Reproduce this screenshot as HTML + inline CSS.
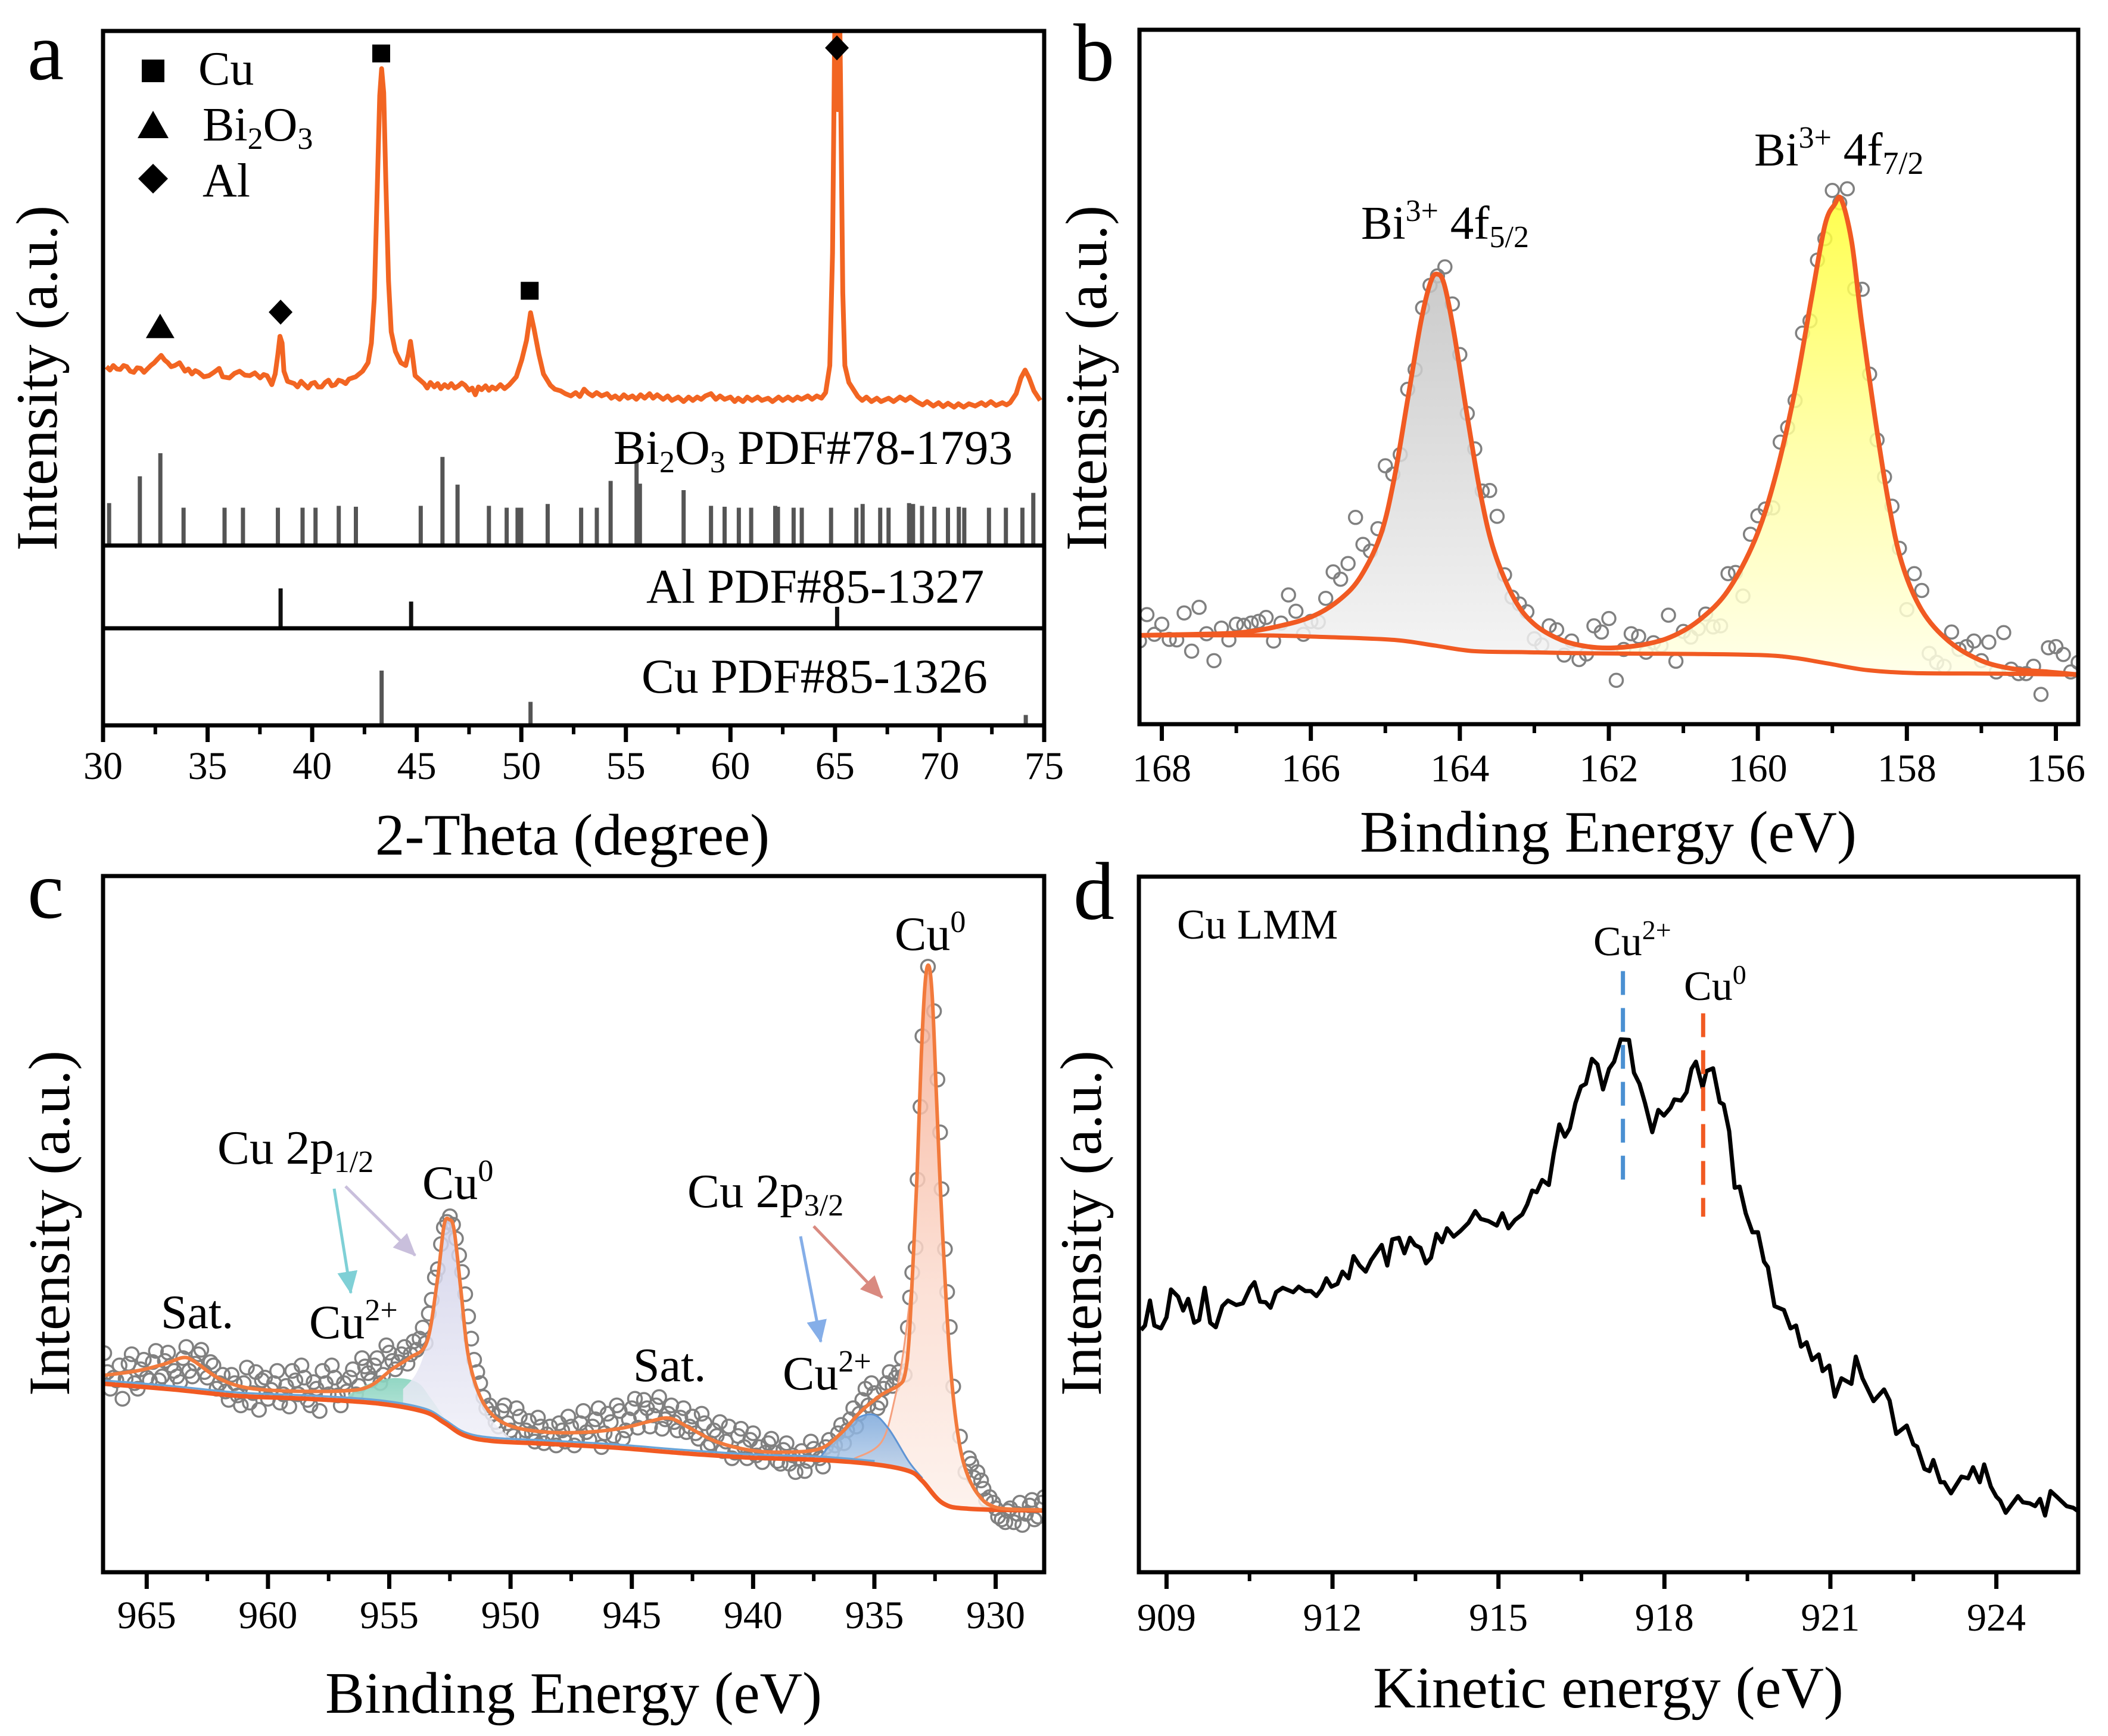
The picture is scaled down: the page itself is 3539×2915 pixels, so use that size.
<!DOCTYPE html>
<html lang="en">
<head>
<meta charset="utf-8">
<title>XRD and XPS characterization panels</title>
<style>
html,body{margin:0;padding:0;background:#fff;}
svg{display:block;}
text{font-family:"Liberation Serif",serif;fill:#000;}
</style>
</head>
<body>
<svg id="fig" xmlns="http://www.w3.org/2000/svg" width="3539" height="2915" viewBox="0 0 3539 2915">
<defs>
<linearGradient id="gGray" x1="0" y1="0" x2="0" y2="1"><stop offset="0" stop-color="#c2c2c2"/><stop offset="1" stop-color="#f2f2f2"/></linearGradient>
<linearGradient id="gYellow" x1="0" y1="0" x2="0" y2="1"><stop offset="0" stop-color="#ffff30"/><stop offset="0.5" stop-color="#ffff9a"/><stop offset="1" stop-color="#ffffe6"/></linearGradient>
<linearGradient id="gTeal" x1="0" y1="0" x2="0" y2="1"><stop offset="0" stop-color="#86d2bd"/><stop offset="1" stop-color="#b9e6da"/></linearGradient>
<linearGradient id="gLav" x1="0" y1="0" x2="0" y2="1"><stop offset="0" stop-color="#cfcfe8"/><stop offset="1" stop-color="#f0f0f8"/></linearGradient>
<linearGradient id="gBlue" x1="0" y1="0" x2="0" y2="1"><stop offset="0" stop-color="#7ba7da"/><stop offset="1" stop-color="#c5d8ee"/></linearGradient>
<linearGradient id="gSalmon" x1="0" y1="0" x2="0" y2="1"><stop offset="0" stop-color="#f6a98c"/><stop offset="0.6" stop-color="#fbdcd0"/><stop offset="1" stop-color="#fdf0ea"/></linearGradient>
<clipPath id="clipA"><rect x="173" y="52" width="1580" height="864"/></clipPath>
<clipPath id="clipB"><rect x="1913" y="50" width="1576" height="1166"/></clipPath>
<clipPath id="clipC"><rect x="173" y="1471" width="1580" height="1169"/></clipPath>
<clipPath id="clipD"><rect x="1912" y="1472" width="1577" height="1168"/></clipPath>
<marker id="arrTeal" markerUnits="userSpaceOnUse" markerWidth="40" markerHeight="50" refX="36" refY="17" orient="auto"><path d="M0 0L38 17L0 34Z" fill="#7fd0d6"/></marker>
<marker id="arrLav" markerUnits="userSpaceOnUse" markerWidth="40" markerHeight="50" refX="36" refY="17" orient="auto"><path d="M0 0L38 17L0 34Z" fill="#c9bfdc"/></marker>
<marker id="arrBlue" markerUnits="userSpaceOnUse" markerWidth="40" markerHeight="50" refX="36" refY="17" orient="auto"><path d="M0 0L38 17L0 34Z" fill="#85aee8"/></marker>
<marker id="arrRed" markerUnits="userSpaceOnUse" markerWidth="40" markerHeight="50" refX="36" refY="17" orient="auto"><path d="M0 0L38 17L0 34Z" fill="#d98a80"/></marker>
</defs>

<rect x="0" y="0" width="3539" height="2915" fill="#fff"/>

<g id="panelA"></g>
<g id="panelB"></g>
<g id="panelC"></g>
<g id="panelD"></g>

<g id="labels">
<text x="46" y="133" font-size="138">a</text>
<text x="1802" y="135" font-size="138">b</text>
<text x="46" y="1541" font-size="138">c</text>
<text x="1802" y="1543" font-size="138">d</text>

<text font-size="99" text-anchor="middle" transform="translate(95 635) rotate(-90)">Intensity (a.u.)</text>
<text font-size="99" text-anchor="middle" transform="translate(1857 635) rotate(-90)">Intensity (a.u.)</text>
<text font-size="99" text-anchor="middle" transform="translate(116 2054) rotate(-90)">Intensity (a.u.)</text>
<text font-size="99" text-anchor="middle" transform="translate(1848 2054) rotate(-90)">Intensity (a.u.)</text>

<text x="961" y="1435" font-size="99" text-anchor="middle">2-Theta (degree)</text>
<text x="2700" y="1430" font-size="99" text-anchor="middle">Binding Energy (eV)</text>
<text x="963" y="2876" font-size="99" text-anchor="middle">Binding Energy (eV)</text>
<text x="2700" y="2867" font-size="99" text-anchor="middle">Kinetic energy (eV)</text>

<rect x="238" y="100" width="38" height="38" fill="#000"/>
<path d="M257 186L283 232L231 232Z" fill="#000"/>
<path d="M257 275L282 300L257 325L232 300Z" fill="#000"/>
<text x="333" y="142" font-size="80">Cu</text>
<text x="340" y="236" font-size="80">Bi<tspan font-size="52" dy="14">2</tspan><tspan dy="-14">O</tspan><tspan font-size="52" dy="14">3</tspan></text>
<text x="340" y="330" font-size="80">Al</text>

<text x="1030" y="779" font-size="81.5">Bi<tspan font-size="52" dy="14">2</tspan><tspan dy="-14">O</tspan><tspan font-size="52" dy="14">3</tspan><tspan dy="-14"> PDF#78-1793</tspan></text>
<text x="1085" y="1012" font-size="82">Al PDF#85-1327</text>
<text x="1077" y="1163" font-size="82">Cu PDF#85-1326</text>

<text x="2285" y="401" font-size="79">Bi<tspan font-size="52" dy="-30">3+</tspan><tspan dy="30"> 4f</tspan><tspan font-size="52" dy="14">5/2</tspan></text>
<text x="2945" y="278" font-size="79">Bi<tspan font-size="52" dy="-30">3+</tspan><tspan dy="30"> 4f</tspan><tspan font-size="54" dy="14">7/2</tspan></text>

<text x="1502" y="1595" font-size="80">Cu<tspan font-size="52" dy="-30">0</tspan></text>
<text x="365" y="1954" font-size="81">Cu 2p<tspan font-size="52" dy="14">1/2</tspan></text>
<text x="709" y="2013" font-size="80">Cu<tspan font-size="52" dy="-30">0</tspan></text>
<text x="519" y="2247" font-size="80">Cu<tspan font-size="52" dy="-30">2+</tspan></text>
<text x="270" y="2230" font-size="80">Sat.</text>
<text x="1063" y="2319" font-size="80">Sat.</text>
<text x="1154" y="2027" font-size="81">Cu 2p<tspan font-size="52" dy="14">3/2</tspan></text>
<text x="1314" y="2333" font-size="80">Cu<tspan font-size="52" dy="-30">2+</tspan></text>

<line x1="561" y1="1996" x2="589" y2="2171" stroke="#7fd0d6" stroke-width="5" marker-end="url(#arrTeal)"/>
<line x1="580" y1="1992" x2="697" y2="2108" stroke="#c9bfdc" stroke-width="5" marker-end="url(#arrLav)"/>
<line x1="1344" y1="2076" x2="1378" y2="2253" stroke="#85aee8" stroke-width="5" marker-end="url(#arrBlue)"/>
<line x1="1366" y1="2059" x2="1481" y2="2179" stroke="#d98a80" stroke-width="5" marker-end="url(#arrRed)"/>

<text x="1976" y="1576" font-size="71">Cu LMM</text>
<text x="2675" y="1604" font-size="70">Cu<tspan font-size="46" dy="-27">2+</tspan></text>
<text x="2827" y="1679" font-size="70">Cu<tspan font-size="46" dy="-27">0</tspan></text>
</g>
</svg>

<script>
/* ---------- panel a: XRD ---------- */
const xrdTheta = [30.16,30.33,30.49,30.66,30.82,30.98,31.14,31.30,31.47,31.63,31.80,31.96,32.12,32.28,32.45,32.62,32.78,32.94,33.10,33.26,33.43,33.66,33.92,34.08,34.25,34.41,34.57,34.82,35.06,35.30,35.55,35.72,36.04,36.28,36.53,36.78,37.02,37.26,37.51,37.68,37.84,38.07,38.23,38.36,38.46,38.56,38.65,38.82,39.14,39.30,39.47,39.63,39.80,39.96,40.12,40.28,40.45,40.62,40.78,40.94,41.10,41.26,41.43,41.60,41.76,42.08,42.41,42.67,42.83,42.97,43.10,43.23,43.32,43.42,43.52,43.65,43.78,43.98,44.24,44.47,44.60,44.70,44.79,44.92,
45.35,45.50,45.65,45.84,46.00,46.15,46.33,46.50,46.65,46.82,47.00,47.15,47.31,47.50,47.65,47.80,47.95,48.10,48.29,48.45,48.60,48.78,49.00,49.20,49.43,
49.76,50.02,50.25,50.44,50.61,50.84,51.06,51.39,
51.60,51.88,52.10,52.37,52.60,52.80,53.00,53.19,53.40,53.60,53.84,54.10,54.30,54.49,54.70,54.90,55.10,55.31,55.50,55.70,55.90,56.13,56.30,56.50,56.78,57.00,57.20,57.50,57.76,58.00,58.20,58.41,58.60,58.80,59.07,59.30,59.50,59.72,60.00,60.20,60.37,60.60,60.80,61.03,61.30,61.50,61.80,62.01,62.30,62.50,62.75,62.98,63.20,63.40,63.70,63.90,64.13,64.35,64.55,
64.75,64.88,64.98,65.04,65.12,65.20,65.27,65.37,65.47,65.66,
66.09,66.30,66.50,66.74,67.00,67.20,67.56,67.80,68.10,68.37,68.60,68.90,69.19,69.40,69.70,69.95,70.17,70.40,70.70,70.90,71.15,71.40,71.70,72.00,72.20,72.45,72.70,73.00,73.20,73.37,
73.66,73.89,74.09,74.28,74.51,74.81];
const xrdIntensity = [318,312,320,314,313,320,318,310,308,316,315,308,314,320,325,332,338,330,325,318,320,325,310,314,305,311,308,300,302,308,315,300,298,306,310,303,302,307,298,304,302,286,305,340,372,360,310,292,288,282,292,286,280,288,290,282,282,290,294,284,286,294,292,288,296,300,310,325,360,440,620,800,848,805,650,470,380,345,325,320,340,363,340,302,
288,280,290,282,288,279,286,281,288,280,284,289,285,276,280,268,282,277,284,276,282,278,286,279,286,
300,330,365,414,385,340,305,285,
278,275,270,266,272,265,278,271,266,272,266,270,262,266,260,268,262,266,260,268,262,270,262,268,260,266,258,264,256,264,258,264,260,266,270,260,266,260,264,256,262,256,264,258,264,258,262,256,264,258,264,258,264,260,266,260,266,262,272,
320,520,900,1020,775,1020,800,450,320,290,
265,258,264,256,262,256,262,256,264,258,264,256,250,256,248,254,247,253,246,252,246,252,248,254,249,256,249,254,250,254,
270,298,312,298,275,258];
const bi2o3Theta = [30.29,31.76,32.74,33.85,35.81,36.69,38.36,39.54,40.16,41.27,42.09,45.19,46.23,46.95,48.45,49.30,49.82,49.99,51.26,52.86,53.61,54.27,55.51,55.67,57.76,59.07,59.72,60.40,60.99,62.14,62.27,63.02,63.41,64.81,66.02,66.32,67.16,67.56,68.54,68.73,69.16,69.75,70.40,70.92,71.18,72.36,73.17,73.96,74.48];
const bi2o3Rel = [46,75,100,41,41,41,41,41,41,43,42,43,96,66,43,41,41,41,45,41,41,70,91,67,60,43,42,41,41,43,42,41,41,41,41,45,41,41,46,45,43,42,41,42,41,41,41,41,57];
const alTheta = [38.49,44.73,65.10];
const alRel = [100,67,54];
const cuTheta = [43.32,50.44,74.12];
const cuRel = [100,43,19];
const markerTheta = [43.3,50.4,32.73,38.49,65.09];
const markerLevel = [875,453,390,415,885];
const markerKind = ['square','square','triangle','diamond','diamond'];
const ticksA = [30,35,40,45,50,55,60,65,70,75];
const minorA = [32.5,37.5,42.5,47.5,52.5,57.5,62.5,67.5,72.5];

/* ---------- panel b: Bi 4f ---------- */
const bEnergy = [168.3,168.2,168.1,168.0,167.9,167.8,167.7,167.6,167.5,167.4,
167.3,167.2,167.1,167.0,166.9,166.8,166.7,166.6,166.5,166.4,
166.3,166.2,166.1,166.0,165.9,165.8,165.7,165.6,165.5,165.4,
165.3,165.2,165.1,165.0,164.9,164.8,164.7,164.6,164.5,164.4,
164.3,164.2,164.1,164.0,163.9,163.8,163.7,163.6,163.5,163.4,
163.3,163.2,163.1,163.0,162.9,162.8,162.7,162.6,162.5,162.4,
162.3,162.2,162.1,162.0,161.9,161.8,161.7,161.6,161.5,161.4,
161.3,161.2,161.1,161.0,160.9,160.8,160.7,160.6,160.5,160.4,
160.3,160.2,160.1,160.0,159.9,159.8,159.7,159.6,159.5,159.4,
159.3,159.2,159.1,159.0,158.9,158.8,158.7,158.6,158.5,158.4,
158.3,158.2,158.1,158.0,157.9,157.8,157.7,157.6,157.5,157.4,
157.3,157.2,157.1,157.0,156.9,156.8,156.7,156.6,156.5,156.4,
156.3,156.2,156.1,156.0,155.9,155.8,155.7];
const bCounts = [148,195,160,178,151,150,198,130,208,161,
113,171,150,178,176,180,183,190,148,180,
230,201,160,183,182,224,271,258,286,368,
320,308,348,460,445,480,596,631,741,781,
798,814,748,658,553,490,415,416,370,266,
226,214,200,152,141,175,168,123,148,115,
125,175,164,188,78,133,161,156,128,145,
140,194,112,165,155,170,196,173,175,268,
270,228,338,371,383,385,502,528,576,696,
718,826,864,950,928,953,775,774,623,506,
440,388,313,204,268,238,126,110,103,164,
133,138,148,113,146,93,163,98,90,90,
103,53,136,138,124,93,110];
const bFitEnergy = [168.30,167.57,166.94,166.41,165.96,165.60,165.33,165.06,164.88,164.70,164.52,164.39,164.30,164.21,164.08,163.90,163.72,163.54,163.27,163.00,162.64,162.28,161.92,161.48,161.12,160.76,160.40,160.04,159.77,159.51,159.28,159.10,158.97,158.88,158.74,158.61,158.43,158.25,158.07,157.80,157.44,157.00,156.55,156.10,155.70];
const bFitValue = [158,160,163,175,193,223,263,338,438,578,718,788,801,783,698,548,408,308,223,178,150,138,136,143,158,188,238,328,438,588,758,888,925,934,858,718,548,398,288,203,148,113,98,93,88];
const bBgEnergy = [168.30,166.67,165.78,164.88,164.34,163.81,163.09,162.19,160.85,159.95,159.51,159.06,158.52,157.89,156.82,155.70];
const bBgValue = [158,158,155,150,140,130,128,126,125,123,118,108,96,91,90,88];
const bPeakSplit = 161.92;
const ticksB = [168,166,164,162,160,158,156];
const minorB = [167,165,163,161,159,157];

/* ---------- panel c: Cu 2p ---------- */
const cEnergy = [966.75,966.5,966.25,966,965.75,965.5,965.25,965,964.75,964.5,
964.25,964,963.75,963.5,963.25,963,962.75,962.5,962.25,962,
961.75,961.5,961.25,961,960.75,960.5,960.25,960,959.75,959.5,
959.25,959,958.75,958.5,958.25,958,957.75,957.5,957.25,957,
956.75,956.5,956.25,956,955.75,955.5,955.25,955,954.75,954.5,
954.25,954,953.75,953.5,953.25,953,952.75,952.5,952.25,952,
951.75,951.5,951.25,951,950.75,950.5,950.25,950,949.75,949.5,
949.25,949,948.75,948.5,948.25,948,947.75,947.5,947.25,947,
946.75,946.5,946.25,946,945.75,945.5,945.25,945,944.75,944.5,
944.25,944,943.75,943.5,943.25,943,942.75,942.5,942.25,942,
941.75,941.5,941.25,941,940.75,940.5,940.25,940,939.75,939.5,
939.25,939,938.75,938.5,938.25,938,937.75,937.5,937.25,937,
936.75,936.5,936.25,936,935.75,935.5,935.25,935,934.75,934.5,
934.25,934,933.75,933.53,933.44,933.3,933.22,933.1,933.02,932.79,
932.54,932.4,932.29,932.23,932.09,932,931.89,931.75,931.47,931.25,
931,930.75,930.5,930.25,930,929.75,929.5,929.25,929,928.75,
928.5,928.25,928];
const cCounts = [394,330,345,312,375,340,365,350,378,345,
380,372,352,385,362,375,400,350,372,340,
325,355,318,340,305,360,345,312,340,305,
335,362,320,350,300,330,362,320,350,300,
325,365,335,370,345,385,355,395,365,392,
375,415,420,412,490,545,620,640,600,540,
460,382,340,295,285,262,300,255,295,245,
272,235,262,248,240,268,235,262,240,290,
238,275,225,285,245,290,255,295,260,310,
262,300,258,285,270,278,252,280,240,268,
232,245,218,262,215,258,205,250,225,215,
240,200,220,195,180,218,200,222,205,225,
215,250,232,275,262,310,300,322,305,340,
335,360,355,494,539,584,706,837,964,1089,
1009,886,791,689,581,504,441,334,244,180,
195,180,150,135,115,95,110,90,125,105,
130,100,135];
const cEnergyExtra = [966.62,966.37,966.12,965.87,965.62,965.37,965.12,964.87,964.62,964.37,
964.12,963.87,963.62,963.37,963.12,962.87,962.62,962.37,962.12,961.87,
961.62,961.37,961.12,960.87,960.62,960.37,960.12,959.87,959.62,959.37,
959.12,958.87,958.62,958.37,958.12,957.87,957.62,957.37,957.12,956.87,
956.62,956.37,956.12,955.87,955.62,955.37,955.12,954.87,954.62,954.37,
954.12,953.87,953.62,953.37,953.12,952.87,952.62,952.37,952.12,951.87,
951.62,951.37,951.12,950.87,950.62,950.37,950.12,949.87,949.62,949.37,
949.12,948.87,948.62,948.37,948.12,947.87,947.62,947.37,947.12,946.87,
946.62,946.37,946.12,945.87,945.62,945.37,945.12,944.87,944.62,944.37,
944.12,943.87,943.62,943.37,943.12,942.87,942.62,942.37,942.12,941.87,
941.62,941.37,941.12,940.87,940.62,940.37,940.12,939.87,939.62,939.37,
939.12,938.87,938.62,938.37,938.12,937.87,937.62,937.37,937.12,936.87,
936.62,936.37,936.12,935.87,935.62,935.37,935.12,934.87,934.62,934.37,
934.12,933.87,933.62,
931.1,930.9,930.6,930.4,930.1,929.9,929.6,929.4,929.1,928.9,928.6,928.4,928.1];
const cCountsExtra = [360,350,372,348,392,330,382,345,398,352,
395,362,342,405,352,392,360,378,330,355,
310,340,300,368,322,292,350,328,362,320,
298,345,372,310,342,290,340,372,318,340,
350,320,385,358,372,340,408,380,378,405,
392,400,440,465,530,590,630,625,570,500,
420,360,315,300,270,290,268,245,280,255,
250,278,232,262,228,255,280,228,268,252,
262,295,250,270,300,240,275,312,280,295,
282,315,275,300,255,295,262,250,285,225,
255,270,235,205,245,225,238,210,198,232,
215,195,232,210,205,182,235,210,190,238,
228,265,255,295,285,330,340,295,330,360,
350,385,440,
205,170,165,130,125,100,90,115,105,85,120,95,125];
const cFitEnergy = [966.78,965.42,964.30,963.51,963.03,962.04,960.91,959.22,956.97,955.84,954.86,954.15,953.45,953.02,952.74,952.52,952.32,952.04,951.76,951.33,950.77,949.93,948.52,946.83,945.42,944.29,943.44,942.60,941.47,940.06,938.65,937.25,936.40,935.56,934.71,934.00,933.75,933.58,933.41,933.24,933.07,932.90,932.74,932.60,932.43,932.26,932.06,931.87,931.61,931.27,930.71,929.92,928.00];
const cFitValue = [354,362,374,386,379,349,332,326,326,334,366,386,414,524,624,634,614,504,394,324,284,262,252,252,259,271,277,259,234,219,216,222,249,289,319,336,354,414,554,714,924,1064,1089,1024,844,674,504,374,264,189,139,116,112];
const cBgEnergy = [966.78,964.01,961.20,958.38,955.56,953.59,952.74,951.90,950.77,948.52,945.70,942.88,940.06,937.25,934.99,933.58,933.02,932.17,931.05,928.00];
const cBgValue = [339,329,317,312,304,289,269,246,236,231,224,214,206,202,194,182,164,124,114,111];
const cSatEnergy = [966.78,964.01,961.20,958.38,955.56,953.59,952.74,951.90,950.77,948.52,945.70,942.88,940.06,937.25,934.99];
const cSatValue = [345,335,323,318,310,295,275,252,242,237,230,220,212,208,200];
const cu2pLowEnergy = [956.69,955.84,954.86,953.87,953.31,952.68];
const cu2pLowValue = [319,339,349,342,314,274];
const cu0pLowEnergy = [954.43,953.87,953.45,953.02,952.74,952.52,952.32,952.04,951.76,951.33,950.77,949.93];
const cu0pLowValue = [329,359,414,534,624,634,614,504,394,324,274,239];
const cu2pHighEnergy = [937.25,936.12,935.13,934.43,933.58,933.02];
const cu2pHighValue = [206,264,284,259,199,169];
const cu0pHighEnergy = [935.84,934.71,934.15,933.75,933.41,933.24,933.07,932.90,932.74,932.60,932.43,932.26,932.06,931.87,931.61,931.27,930.71,929.92];
const cu0pHighValue = [204,234,314,414,554,714,924,1064,1089,1024,844,674,504,374,264,189,139,116];
const ticksC = [965,960,955,950,945,940,935,930];
const minorC = [962.5,957.5,952.5,947.5,942.5,937.5,932.5];

/* ---------- panel d: Cu LMM ---------- */
const dEnergy = [908.54,908.61,908.70,908.78,908.90,909.00,909.08,909.21,909.30,909.39,
909.50,909.59,909.69,909.79,909.89,910.01,910.11,910.26,910.38,910.51,
910.59,910.69,910.79,910.88,910.98,911.10,911.29,911.39,911.51,911.61,
911.71,911.80,911.89,911.98,912.09,912.18,912.29,912.38,912.49,912.60,
912.70,912.89,912.99,913.08,913.20,913.30,913.40,913.49,913.59,913.69,
913.78,913.88,913.98,914.07,914.19,914.31,914.46,914.58,914.68,914.82,
914.97,915.07,915.18,915.30,915.43,915.52,915.61,915.69,915.79,915.91,
916.00,916.10,916.20,916.29,916.39,916.49,916.58,916.69,916.79,916.89,
917.00,917.09,917.21,917.36,917.45,917.55,917.65,917.78,917.89,917.99,
918.11,918.18,918.30,918.40,918.49,918.57,918.69,918.76,918.88,919.00,
919.07,919.17,919.27,919.36,919.47,919.59,919.69,919.80,919.87,919.99,
920.16,920.28,920.38,920.47,920.57,920.67,920.79,920.86,920.98,921.08,
921.20,921.38,921.46,921.58,921.78,921.97,922.07,922.19,922.38,922.50,
922.57,922.70,922.79,922.86,922.99,923.06,923.18,923.37,923.49,923.58,
923.70,923.78,923.90,924.00,924.07,924.17,924.39,924.48,924.60,924.70,
924.79,924.88,924.98,925.09,925.27,925.39,925.49];
const dCounts = [436,444,489,444,439,459,509,496,471,492,
449,454,512,449,441,479,489,481,484,512,
522,487,486,476,504,512,504,514,506,506,
497,509,529,514,519,541,529,569,552,541,
562,589,552,599,602,574,602,589,584,556,
566,609,594,619,604,614,629,650,636,632,
624,646,619,634,644,662,687,684,706,697,
754,806,784,799,844,874,879,924,914,869,
906,919,959,958,899,879,844,792,832,822,
836,851,849,864,906,919,872,902,907,846,
842,794,692,694,646,612,612,559,549,479,
472,439,444,406,414,382,392,362,372,316,
349,339,388,349,308,329,309,249,264,230,
226,186,182,202,162,162,142,172,169,189,
162,194,154,136,129,107,137,126,124,119,
132,102,146,136,119,116,109];
const dCu2Energy = 917.25;
const dCu0Energy = 918.70;
const dCu2Range = [1082,705];
const dCu0Range = [1006,640];
const ticksD = [909,912,915,918,921,924];
const minorD = [910.5,913.5,916.5,919.5,922.5,925.5];

/* ---------- axis functions ---------- */
const xA = t => 173 + (t - 30) * (1580 / 45);
const yA = v => 916 - v * (864 / 915);
const xB = e => 1913 + (168.3 - e) * (1576 / 12.6);
const yB = v => 1216 - v * (1166 / 1236);
const xC = e => 173 + (966.8 - e) * (1580 / 38.8);
const yC = v => 2640 - v * (1169 / 1252);
const xD = e => 1912 + (e - 908.5) * (1577 / 16.98);
const yD = v => 2640 - v * (1168 / 1252);

const NS = 'http://www.w3.org/2000/svg';

function mk(parent, tag, name, attrs) {
  const el = document.createElementNS(NS, tag);
  
  
  for (const k in attrs) el.setAttribute(k, attrs[k]);
  parent.appendChild(el);
  return el;
}

function pts(xs, ys, fx, fy) {
  const out = [];
  const n = Math.min(xs.length, ys.length);
  for (let i = 0; i < n; i++) out.push([fx(xs[i]), fy(ys[i])]);
  return out;
}
function linePath(p) {
  return p.map((q, i) => (i ? 'L' : 'M') + q[0].toFixed(1) + ' ' + q[1].toFixed(1)).join('');
}
function smoothPath(p) {
  let d = 'M' + p[0][0].toFixed(1) + ' ' + p[0][1].toFixed(1);
  for (let i = 0; i < p.length - 1; i++) {
    const a = p[Math.max(i - 1, 0)], b = p[i], c = p[i + 1], e = p[Math.min(i + 2, p.length - 1)];
    const c1x = b[0] + (c[0] - a[0]) / 6, c1y = b[1] + (c[1] - a[1]) / 6;
    const c2x = c[0] - (e[0] - b[0]) / 6, c2y = c[1] - (e[1] - b[1]) / 6;
    d += 'C' + c1x.toFixed(1) + ' ' + c1y.toFixed(1) + ' ' + c2x.toFixed(1) + ' ' + c2y.toFixed(1) + ' ' + c[0].toFixed(1) + ' ' + c[1].toFixed(1);
  }
  return d;
}
function interpDesc(xs, ys, x) {
  for (let i = 0; i < xs.length - 1; i++) {
    if (x <= xs[i] && x >= xs[i + 1]) {
      const t = (xs[i] - x) / (xs[i] - xs[i + 1]);
      return ys[i] + t * (ys[i + 1] - ys[i]);
    }
  }
  return ys[ys.length - 1];
}
function areaPath(es, vs, bgE, bgV, fx, fy) {
  const top = pts(es, vs, fx, fy);
  let d = smoothPath(top);
  for (let i = es.length - 1; i >= 0; i--) {
    d += 'L' + fx(es[i]).toFixed(1) + ' ' + fy(interpDesc(bgE, bgV, es[i])).toFixed(1);
  }
  return d + 'Z';
}
function drawAxis(g, ticks, minor, fx, base, labelY, left, top, w, h, prefix) {
  ticks.forEach(t => {
    mk(g, 'line', prefix + '-major-tick', {x1: fx(t), x2: fx(t), y1: base, y2: base + 28, stroke: '#000', 'stroke-width': 7});
    const lab = mk(g, 'text', prefix + '-tick-label', {x: fx(t), y: labelY, 'font-size': 66, 'text-anchor': 'middle'});
    lab.textContent = String(t);
  });
  minor.forEach(t => {
    if (fx(t) > left && fx(t) < left + w) {
      mk(g, 'line', prefix + '-minor-tick', {x1: fx(t), x2: fx(t), y1: base, y2: base + 15, stroke: '#000', 'stroke-width': 6});
    }
  });
  mk(g, 'rect', prefix + '-frame', {x: left, y: top, width: w, height: h, fill: 'none', stroke: '#000', 'stroke-width': 7});
}
function drawCircles(g, xs, ys, fx, fy, name, r) {
  const n = Math.min(xs.length, ys.length);
  for (let i = 0; i < n; i++) {
    mk(g, 'circle', name, {cx: fx(xs[i]).toFixed(1), cy: fy(ys[i]).toFixed(1), r: r, fill: 'none', stroke: '#808080', 'stroke-width': 3.5});
  }
}

/* ---------- draw panel a ---------- */
const gA = document.getElementById('panelA');
mk(gA, 'path', 'xrd-pattern', {d: linePath(pts(xrdTheta, xrdIntensity, xA, yA)), fill: 'none', stroke: '#f26522', 'stroke-width': 8, 'stroke-linejoin': 'round', 'clip-path': 'url(#clipA)'});
bi2o3Theta.forEach((t, i) => {
  mk(gA, 'line', 'bi2o3-reference-stick', {x1: xA(t), x2: xA(t), y1: 916, y2: 916 - bi2o3Rel[i] * 1.55, stroke: '#555', 'stroke-width': 7});
});
alTheta.forEach((t, i) => {
  mk(gA, 'line', 'al-reference-stick', {x1: xA(t), x2: xA(t), y1: 1055, y2: 1055 - alRel[i] * 0.67, stroke: '#111', 'stroke-width': 7});
});
cuTheta.forEach((t, i) => {
  mk(gA, 'line', 'cu-reference-stick', {x1: xA(t), x2: xA(t), y1: 1218, y2: 1218 - cuRel[i] * 0.92, stroke: '#555', 'stroke-width': 7});
});
mk(gA, 'line', 'divider-bi2o3-al', {x1: 173, x2: 1753, y1: 916, y2: 916, stroke: '#000', 'stroke-width': 7});
mk(gA, 'line', 'divider-al-cu', {x1: 173, x2: 1753, y1: 1055, y2: 1055, stroke: '#000', 'stroke-width': 7});
drawAxis(gA, ticksA, minorA, xA, 1218, 1308, 173, 52, 1580, 1166, 'x-axis-a');
markerTheta.forEach((t, i) => {
  const cx = xA(t), cy = yA(markerLevel[i]);
  if (markerKind[i] === 'square') {
    mk(gA, 'rect', 'peak-marker-cu', {x: cx - 15, y: cy - 15, width: 30, height: 30, fill: '#000'});
  } else if (markerKind[i] === 'triangle') {
    mk(gA, 'path', 'peak-marker-bi2o3', {d: 'M' + cx + ' ' + (cy - 21) + 'L' + (cx + 24) + ' ' + (cy + 20) + 'L' + (cx - 24) + ' ' + (cy + 20) + 'Z', fill: '#000'});
  } else {
    mk(gA, 'path', 'peak-marker-al', {d: 'M' + cx + ' ' + (cy - 21) + 'L' + (cx + 20) + ' ' + cy + 'L' + cx + ' ' + (cy + 21) + 'L' + (cx - 20) + ' ' + cy + 'Z', fill: '#000'});
  }
});

/* ---------- draw panel b ---------- */
const gB = document.getElementById('panelB');
const clipB = mk(gB, 'g', 'plot-area-b', {'clip-path': 'url(#clipB)'});
drawCircles(clipB, bEnergy, bCounts, xB, yB, 'bi-4f-data-point', 11);
const peak1E = [], peak1V = [], peak2E = [], peak2V = [];
bFitEnergy.forEach((e, i) => {
  if (e >= bPeakSplit) { peak1E.push(e); peak1V.push(bFitValue[i]); }
  if (e <= bPeakSplit) { peak2E.push(e); peak2V.push(bFitValue[i]); }
});
mk(clipB, 'path', 'bi-4f52-fill', {d: areaPath(peak1E, peak1V, bBgEnergy, bBgValue, xB, yB), fill: 'url(#gGray)', 'fill-opacity': 0.85});
mk(clipB, 'path', 'bi-4f72-fill', {d: areaPath(peak2E, peak2V, bBgEnergy, bBgValue, xB, yB), fill: 'url(#gYellow)', 'fill-opacity': 0.85});
mk(clipB, 'path', 'bi-4f-background', {d: smoothPath(pts(bBgEnergy, bBgValue, xB, yB)), fill: 'none', stroke: '#f15a22', 'stroke-width': 7});
mk(clipB, 'path', 'bi-4f-fit', {d: smoothPath(pts(bFitEnergy, bFitValue, xB, yB)), fill: 'none', stroke: '#f15a22', 'stroke-width': 8});
drawAxis(gB, ticksB, minorB, xB, 1216, 1312, 1913, 50, 1576, 1166, 'x-axis-b');

/* ---------- draw panel c ---------- */
const gC = document.getElementById('panelC');
const clipC = mk(gC, 'g', 'plot-area-c', {'clip-path': 'url(#clipC)'});
drawCircles(clipC, cEnergy, cCounts, xC, yC, 'cu-2p-data-point', 11.5);
drawCircles(clipC, cEnergyExtra, cCountsExtra, xC, yC, 'cu-2p-data-point', 11.5);
mk(clipC, 'path', 'cu2-2p12-fill', {d: areaPath(cu2pLowEnergy, cu2pLowValue, cBgEnergy, cBgValue, xC, yC), fill: 'url(#gTeal)', 'fill-opacity': 0.9});
mk(clipC, 'path', 'cu0-2p12-fill', {d: areaPath(cu0pLowEnergy, cu0pLowValue, cBgEnergy, cBgValue, xC, yC), fill: 'url(#gLav)', 'fill-opacity': 0.85});
mk(clipC, 'path', 'cu0-2p32-fill', {d: areaPath(cu0pHighEnergy, cu0pHighValue, cBgEnergy, cBgValue, xC, yC), fill: 'url(#gSalmon)', 'fill-opacity': 0.85});
mk(clipC, 'path', 'cu2-2p32-fill', {d: areaPath(cu2pHighEnergy, cu2pHighValue, cBgEnergy, cBgValue, xC, yC), fill: 'url(#gBlue)', 'fill-opacity': 0.85});
mk(clipC, 'path', 'cu0-2p32-outline', {d: smoothPath(pts(cu0pHighEnergy, cu0pHighValue, xC, yC)), fill: 'none', stroke: '#f4a07e', 'stroke-width': 3});
mk(clipC, 'path', 'cu2-2p32-outline', {d: smoothPath(pts(cu2pHighEnergy, cu2pHighValue, xC, yC)), fill: 'none', stroke: '#5f94d4', 'stroke-width': 3});
mk(clipC, 'path', 'satellite-baseline', {d: smoothPath(pts(cSatEnergy, cSatValue, xC, yC)), fill: 'none', stroke: '#6aa5d8', 'stroke-width': 3.5});
mk(clipC, 'path', 'cu-2p-background', {d: smoothPath(pts(cBgEnergy, cBgValue, xC, yC)), fill: 'none', stroke: '#f15a22', 'stroke-width': 7.5});
mk(clipC, 'path', 'cu-2p-fit', {d: smoothPath(pts(cFitEnergy, cFitValue, xC, yC)), fill: 'none', stroke: '#f27a3c', 'stroke-width': 6});
drawAxis(gC, ticksC, minorC, xC, 2640, 2734, 173, 1471, 1580, 1169, 'x-axis-c');

/* ---------- draw panel d ---------- */
const gD = document.getElementById('panelD');
const clipD = mk(gD, 'g', 'plot-area-d', {'clip-path': 'url(#clipD)'});
mk(clipD, 'path', 'cu-lmm-spectrum', {d: linePath(pts(dEnergy, dCounts, xD, yD)), fill: 'none', stroke: '#000', 'stroke-width': 7, 'stroke-linejoin': 'round'});
mk(clipD, 'line', 'cu2-position-line', {x1: xD(dCu2Energy), x2: xD(dCu2Energy), y1: yD(dCu2Range[0]), y2: yD(dCu2Range[1]), stroke: '#4a90d2', 'stroke-width': 7, 'stroke-dasharray': '40 22'});
mk(clipD, 'line', 'cu0-position-line', {x1: xD(dCu0Energy), x2: xD(dCu0Energy), y1: yD(dCu0Range[0]), y2: yD(dCu0Range[1]), stroke: '#f15a22', 'stroke-width': 7, 'stroke-dasharray': '40 22'});
drawAxis(gD, ticksD, minorD, xD, 2640, 2738, 1912, 1472, 1577, 1168, 'x-axis-d');
</script>
</body>
</html>
